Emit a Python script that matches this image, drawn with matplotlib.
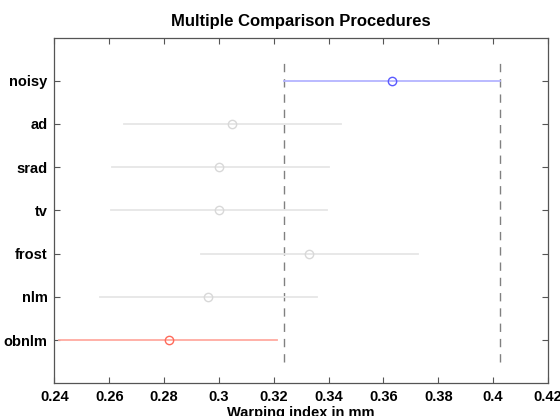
import matplotlib
matplotlib.use("Agg")
import matplotlib.pyplot as plt
import numpy as np

plt.rcParams['font.family'] = ['Liberation Sans', 'DejaVu Sans']

# groups, top to bottom
groups = ['noisy', 'ad', 'srad', 'tv', 'frost', 'nlm', 'obnlm']
means = [0.3631, 0.3047, 0.3002, 0.2999, 0.3329, 0.2961, 0.2816]
lower = [0.3236, 0.2653, 0.2610, 0.2605, 0.2934, 0.2566, 0.2418]
upper = [0.4027, 0.3444, 0.3400, 0.3396, 0.3726, 0.3356, 0.3210]
line_cols = ['#b4b4ff', '#e6e6e6', '#e6e6e6', '#e6e6e6', '#e6e6e6', '#e6e6e6', '#ffaaa0']
mark_cols = ['#5a5aff', '#d8d8d8', '#d8d8d8', '#d8d8d8', '#d8d8d8', '#d8d8d8', '#ff6a5a']
xticks = [0.24, 0.26, 0.28, 0.3, 0.32, 0.34, 0.36, 0.38, 0.4, 0.42]
xtick_labels = ['0.24', '0.26', '0.28', '0.3', '0.32', '0.34', '0.36', '0.38', '0.4', '0.42']

fig = plt.figure(figsize=(5.6, 4.16), dpi=100)
ax = fig.add_axes([0.0973, 0.0788, 0.881, 0.831])

n = len(groups)
ypos = np.arange(n, 0, -1)

for i in range(n):
    ax.plot([lower[i], upper[i]], [ypos[i], ypos[i]], color=line_cols[i], lw=1.3, zorder=2)
    ax.plot(means[i], ypos[i], 'o', mfc='none', mec=mark_cols[i], ms=6, mew=1.0, zorder=3)

# comparison interval of the selected group
for xv in [lower[0], upper[0]]:
    ax.plot([xv, xv], [0.5, n + 0.5], color='#808080', lw=1.0, ls=(0, (6, 5)), zorder=1)

ax.set_xlim(0.24, 0.42)
ax.set_ylim(0, n + 1)
ax.set_xticks(xticks)
ax.set_xticklabels(xtick_labels)
ax.set_yticks(ypos)
ax.set_yticklabels(groups)

for lab in ax.get_xticklabels() + ax.get_yticklabels():
    lab.set_fontweight('bold')
    lab.set_fontsize(10.5)

ax.tick_params(direction='in', top=True, right=True, length=4, width=0.8, color='#555555', pad=5)
for sp in ax.spines.values():
    sp.set_color('#555555')
    sp.set_linewidth(0.9)

ax.set_title('Multiple Comparison Procedures', fontsize=12, fontweight='bold', pad=8)
ax.set_xlabel('Warping index in mm', fontsize=10.5, fontweight='bold', labelpad=1)

fig.savefig('out.png', dpi=100)
